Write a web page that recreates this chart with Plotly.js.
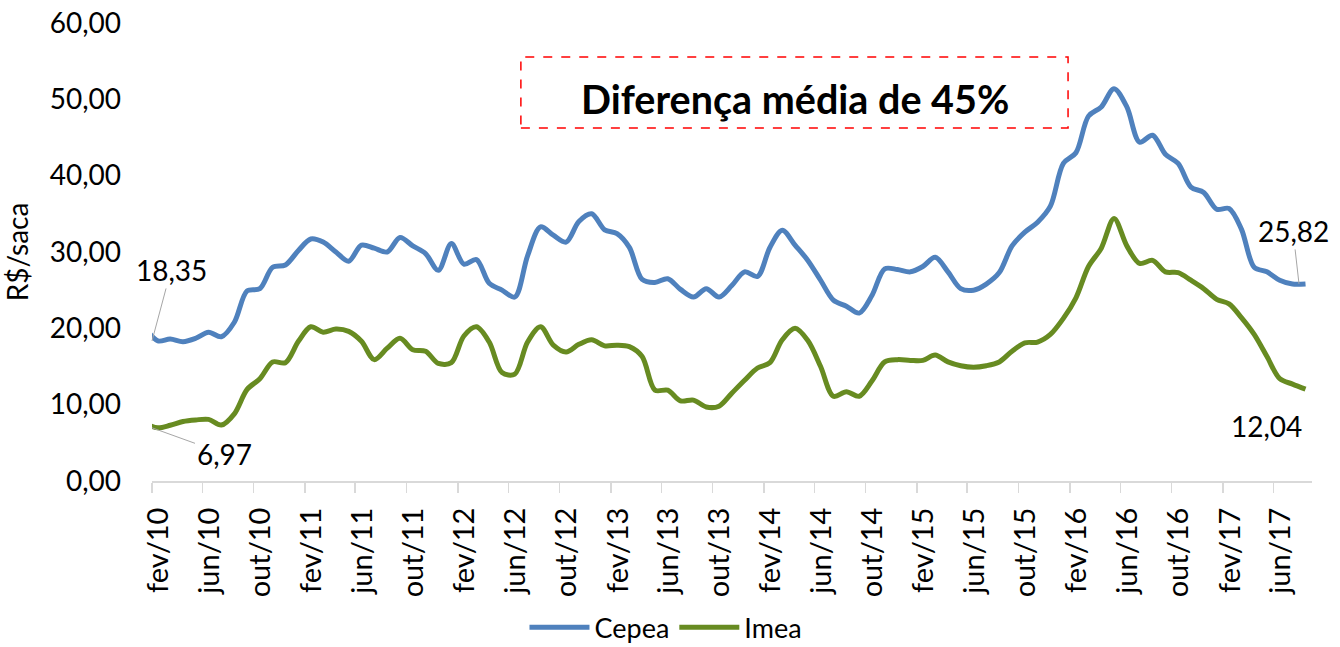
<!DOCTYPE html>
<html>
<head>
<meta charset="utf-8">
<script src="https://cdn.plot.ly/plotly-3.0.1.min.js"></script>
<style>
  html, body { margin: 0; padding: 0; background: #fff; }
  #chart { width: 1340px; height: 647px; }
</style>
</head>
<body>
<div id="chart"></div>
<script>
// Months (monthly observations, drawn at mid-month)
const months = [
  '2010-01','2010-02','2010-03','2010-04','2010-05','2010-06','2010-07','2010-08','2010-09','2010-10','2010-11','2010-12',
  '2011-01','2011-02','2011-03','2011-04','2011-05','2011-06','2011-07','2011-08','2011-09','2011-10','2011-11','2011-12',
  '2012-01','2012-02','2012-03','2012-04','2012-05','2012-06','2012-07','2012-08','2012-09','2012-10','2012-11','2012-12',
  '2013-01','2013-02','2013-03','2013-04','2013-05','2013-06','2013-07','2013-08','2013-09','2013-10','2013-11','2013-12',
  '2014-01','2014-02','2014-03','2014-04','2014-05','2014-06','2014-07','2014-08','2014-09','2014-10','2014-11','2014-12',
  '2015-01','2015-02','2015-03','2015-04','2015-05','2015-06','2015-07','2015-08','2015-09','2015-10','2015-11','2015-12',
  '2016-01','2016-02','2016-03','2016-04','2016-05','2016-06','2016-07','2016-08','2016-09','2016-10','2016-11','2016-12',
  '2017-01','2017-02','2017-03','2017-04','2017-05','2017-06','2017-07','2017-08'
];

// R$/saca
const cepea = [
  20.0, 18.35, 18.6, 18.25, 18.7, 19.5, 18.9, 20.8, 24.9, 25.2, 28.0, 28.3,
  30.2, 31.7, 31.3, 30.0, 28.8, 30.9, 30.5, 30.0, 31.9, 30.8, 29.8, 27.6,
  31.1, 28.4, 29.0, 25.9, 25.0, 24.1, 29.5, 33.3, 32.2, 31.3, 34.0, 35.0,
  32.9, 32.4, 30.6, 26.4, 26.0, 26.5, 25.1, 24.1, 25.2, 24.1, 25.6, 27.4,
  26.8, 30.6, 32.85, 30.9, 28.9, 26.3, 23.7, 22.9, 22.0, 24.3, 27.8, 27.7,
  27.4, 28.1, 29.3, 27.4, 25.2, 25.0, 25.8, 27.3, 30.8, 32.6, 33.9, 36.0,
  41.6, 43.0, 47.8, 49.0, 51.4, 49.0, 44.4, 45.3, 42.8, 41.6, 38.5, 37.8,
  35.6, 35.7, 33.0, 28.0, 27.4, 26.3, 25.8, 25.82
];

const imea = [
  7.5, 6.97, 7.3, 7.8, 8.0, 8.07, 7.33, 8.8, 12.0, 13.4, 15.6, 15.5,
  18.3, 20.2, 19.5, 19.9, 19.6, 18.3, 15.9, 17.4, 18.7, 17.2, 17.0, 15.4,
  15.5, 19.0, 20.2, 18.2, 14.2, 14.0, 18.2, 20.2, 17.8, 16.9, 17.9, 18.5,
  17.7, 17.8, 17.6, 16.3, 11.9, 11.9, 10.5, 10.6, 9.7, 9.8, 11.5, 13.2,
  14.8, 15.5, 18.5, 20.0, 18.4, 15.0, 11.1, 11.7, 11.1, 13.1, 15.6, 15.9,
  15.8, 15.8, 16.5, 15.6, 15.1, 14.9, 15.1, 15.6, 17.0, 18.1, 18.2, 19.2,
  21.3, 24.0, 28.1, 30.5, 34.4, 30.8, 28.5, 28.9, 27.4, 27.3, 26.3, 25.2,
  23.8, 23.2, 21.4, 19.2, 16.3, 13.4, 12.7, 12.04
];

const tickVals = [
  '2010-02-01','2010-06-01','2010-10-01','2011-02-01','2011-06-01','2011-10-01',
  '2012-02-01','2012-06-01','2012-10-01','2013-02-01','2013-06-01','2013-10-01',
  '2014-02-01','2014-06-01','2014-10-01','2015-02-01','2015-06-01','2015-10-01',
  '2016-02-01','2016-06-01','2016-10-01','2017-02-01','2017-06-01'
];
const tickText = [
  'fev/10','jun/10','out/10','fev/11','jun/11','out/11',
  'fev/12','jun/12','out/12','fev/13','jun/13','out/13',
  'fev/14','jun/14','out/14','fev/15','jun/15','out/15',
  'fev/16','jun/16','out/16','fev/17','jun/17'
];

const seriesNames = ['Cepea', 'Imea'];
const boxText = 'Diferença média de 45%';

const FONT = 'Lato, "Open Sans", "DejaVu Sans", sans-serif';
const BLUE = '#4F81BD';
const GREEN = '#678B21';

const traces = [
  {
    x: months, y: cepea, name: seriesNames[0], type: 'scatter', mode: 'lines',
    xperiod: 'M1', xperiodalignment: 'middle',
    line: { color: BLUE, width: 5, shape: 'spline', smoothing: 0.9 },
    hoverinfo: 'skip'
  },
  {
    x: months, y: imea, name: seriesNames[1], type: 'scatter', mode: 'lines',
    xperiod: 'M1', xperiodalignment: 'middle',
    line: { color: GREEN, width: 5, shape: 'spline', smoothing: 0.9 },
    hoverinfo: 'skip'
  }
];

const first = 1, last = months.length - 1;
const labelFont = { family: FONT, size: 28, color: '#000' };
const lead = { showarrow: true, arrowhead: 0, arrowwidth: 1, arrowcolor: '#a6a6a6', standoff: 0 };

const layout = {
  width: 1340, height: 647,
  margin: { l: 152, r: 28, t: 23, b: 166 },
  paper_bgcolor: '#fff', plot_bgcolor: '#fff',
  separators: ',.',
  font: { family: FONT, size: 28, color: '#000' },
  showlegend: true,
  legend: {
    orientation: 'h', xref: 'container', yref: 'container',
    x: 0.497, xanchor: 'center', y: 0.03, yanchor: 'middle',
    bgcolor: 'rgba(0,0,0,0)',
    font: { family: FONT, size: 27, color: '#000' }, itemwidth: 60
  },
  xaxis: {
    type: 'date',
    range: ['2010-02-01', '2017-09-01'],
    tickvals: tickVals, ticktext: tickText,
    tickangle: -90,
    ticks: 'outside', ticklen: 10, tickwidth: 1.5, tickcolor: '#d9d9d9',
    showline: true, linecolor: '#d9d9d9', linewidth: 2,
    showgrid: false, zeroline: false,
    tickfont: { family: FONT, size: 29, color: '#000' },
    ticklabelshift: 7, ticklabelstandoff: 3,
    automargin: false, fixedrange: true
  },
  yaxis: {
    range: [0, 60], dtick: 10, tick0: 0, tickformat: '.2f',
    showgrid: false, zeroline: false, showline: false, ticks: '',
    tickfont: { family: FONT, size: 28, color: '#000' },
    ticklabelstandoff: 30,
    title: { text: 'R$/saca', font: { family: FONT, size: 28, color: '#000' }, standoff: 12 },
    automargin: false, fixedrange: true
  },
  shapes: [
    {
      type: 'rect', xref: 'paper', yref: 'paper',
      x0: 0.318, x1: 0.7897, y0: 0.7707, y1: 0.9258,
      line: { color: '#ff0000', width: 1.5, dash: 'dash' }, fillcolor: 'rgba(0,0,0,0)'
    }
  ],
  annotations: [
    Object.assign({ x: months[first], y: cepea[first], xref: 'x', yref: 'y',
      text: cepea[first].toFixed(2).replace('.', ','), ax: 19, ay: -71, font: labelFont }, lead),
    Object.assign({ x: months[first], y: imea[first], xref: 'x', yref: 'y',
      text: imea[first].toFixed(2).replace('.', ','), ax: 72, ay: 26, font: labelFont }, lead),
    Object.assign({ x: months[last], y: cepea[last], xref: 'x', yref: 'y',
      text: cepea[last].toFixed(2).replace('.', ','), ax: -6, ay: -53, font: labelFont }, lead),
    { x: months[last], y: imea[last], xref: 'x', yref: 'y',
      text: imea[last].toFixed(2).replace('.', ','), showarrow: false,
      xshift: -33, yshift: -37, font: labelFont },
    { x: 0.5543, y: 0.836, xref: 'paper', yref: 'paper', showarrow: false,
      xanchor: 'center', yanchor: 'middle',
      text: '<b>' + boxText + '</b>',
      font: { family: FONT, size: 39.5, color: '#000' } }
  ]
};

Plotly.newPlot('chart', traces, layout, { displayModeBar: false, staticPlot: true });
</script>
</body>
</html>
